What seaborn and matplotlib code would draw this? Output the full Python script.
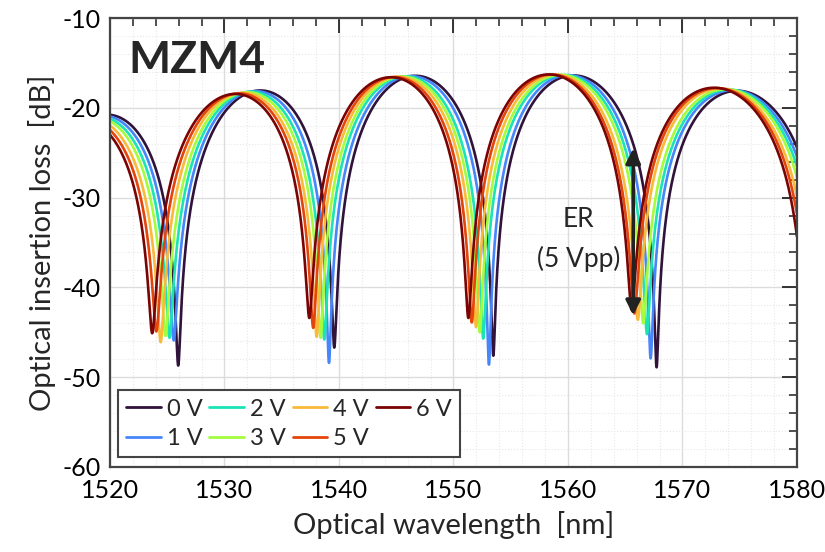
import numpy as np
import pandas as pd
import matplotlib
matplotlib.use("Agg")
import matplotlib.pyplot as plt
import seaborn as sns
from matplotlib.ticker import MultipleLocator

# Bias voltages applied to the modulator
voltages = ["0 V", "1 V", "2 V", "3 V", "4 V", "5 V", "6 V"]

# Notch (minimum transmission) wavelengths in nm for each bias voltage.
# First and last columns are the neighbouring notches just outside the 1520-1580 nm window.
notch_nm = [
    [1512.6, 1525.96, 1539.59, 1553.48, 1567.74, 1582.7],
    [1512.2, 1525.57, 1539.13, 1553.10, 1567.22, 1582.4],
    [1511.8, 1525.20, 1538.72, 1552.60, 1566.90, 1582.1],
    [1511.5, 1524.85, 1538.40, 1552.30, 1566.58, 1581.8],
    [1511.0, 1524.43, 1538.05, 1551.97, 1566.10, 1581.4],
    [1510.6, 1524.05, 1537.75, 1551.60, 1565.80, 1581.1],
    [1510.3, 1523.69, 1537.41, 1551.30, 1565.56, 1580.8],
]

# Insertion loss at the bottom of each notch (dB)
notch_db = [
    [-45.0, -48.7, -46.7, -47.6, -48.9, -45.0],
    [-45.0, -45.9, -48.4, -48.6, -47.9, -45.0],
    [-45.0, -45.6, -45.8, -45.7, -45.2, -45.0],
    [-45.0, -45.4, -45.6, -45.0, -44.0, -45.0],
    [-45.0, -46.1, -45.5, -44.4, -43.6, -45.0],
    [-45.0, -44.9, -44.5, -43.9, -42.9, -45.0],
    [-45.0, -45.1, -43.4, -43.4, -42.5, -45.0],
]

# Transmission maxima (fringe envelope) in nm and dB
peak_nm = [1512.0, 1519.0, 1532.0, 1545.5, 1559.8, 1573.0, 1587.0]
peak_db = [-22.5, -20.7, -18.3, -16.6, -16.1, -17.9, -20.5]

# Extinction-ratio annotation
er_top_db = -24.5
er_bottom_db = -43.1
er_nm = 1565.7

# Mach-Zehnder fringe built from the measured notches and envelope
wl = np.linspace(1520, 1580, 4001)
env_fit = np.polyfit(peak_nm, peak_db, 4)
frames = []
for v, nm, ndb in zip(voltages, notch_nm, notch_db):
    nm = np.asarray(nm)
    ndb = np.asarray(ndb)
    order = np.interp(wl, nm, np.arange(len(nm)))
    nearest = np.clip(np.round(order).astype(int), 0, len(nm) - 1)
    eps = 10 ** ((ndb - np.polyval(env_fit, nm)) / 10)
    ph = np.pi * order
    rel = np.sin(ph) ** 2 + eps[nearest] * np.cos(ph) ** 2
    loss = np.polyval(env_fit, wl) + 10 * np.log10(rel)
    frames.append(pd.DataFrame({"wavelength": wl, "loss": loss, "bias": v}))
df = pd.concat(frames, ignore_index=True)

sns.set_theme(style="white")
font = ["Lato", "DejaVu Sans"]
plt.rcParams["font.family"] = font
plt.rcParams["axes.unicode_minus"] = False

colors = plt.get_cmap("turbo")(np.linspace(0, 1, len(voltages)))
palette = dict(zip(voltages, colors))

fig = plt.figure(figsize=(8.25, 5.52), dpi=100)
ax = fig.add_axes([0.1333, 0.154, 0.8327, 0.813])

ax.grid(True, which="major", color="#dcdcdc", lw=1.0, ls="-")
ax.grid(True, which="minor", color="#e8e8e8", lw=0.8, ls=":")
ax.set_axisbelow(True)

sns.lineplot(data=df, x="wavelength", y="loss", hue="bias", palette=palette,
             hue_order=voltages, sort=False, estimator=None, lw=1.9, ax=ax)

ax.set_xlim(1520, 1580)
ax.set_ylim(-60, -10)
ax.xaxis.set_major_locator(MultipleLocator(10))
ax.xaxis.set_minor_locator(MultipleLocator(2))
ax.yaxis.set_major_locator(MultipleLocator(10))
ax.yaxis.set_minor_locator(MultipleLocator(2))
ax.tick_params(which="both", direction="in", top=True, right=True,
               colors="#333333", labelcolor="black", labelsize=18)
ax.tick_params(which="major", length=11, width=1.4)
ax.tick_params(which="minor", length=6, width=1.2)
ax.tick_params(axis="x", pad=9)
ax.tick_params(axis="y", pad=7)
for s in ax.spines.values():
    s.set_color("#444444")
    s.set_linewidth(1.6)

ax.set_xlabel("Optical wavelength  [nm]", fontsize=21, labelpad=6)
ax.set_ylabel("Optical insertion loss  [dB]", fontsize=21)
ax.yaxis.set_label_coords(-0.078, 0.5)

ax.text(1521.6, -16.1, "MZM4", fontsize=32, fontweight="bold", ha="left",
        va="baseline")

ax.annotate("", xy=(er_nm, er_bottom_db), xytext=(er_nm, er_top_db),
            arrowprops=dict(arrowstyle="<|-|>", color="#222222", lw=2.6,
                            mutation_scale=22, shrinkA=0, shrinkB=0))
ax.text(1560.9, -32.4, "ER", fontsize=19, ha="center", va="center")
ax.text(1560.9, -36.8, "(5 Vpp)", fontsize=19, ha="center", va="center")

leg = ax.legend(loc="lower left", bbox_to_anchor=(0.012, 0.022), ncol=4,
                fontsize=17, frameon=True, fancybox=False, borderaxespad=0,
                handlelength=1.45, handletextpad=0.25, columnspacing=0.3,
                labelspacing=0.35, borderpad=0.35)
leg.get_frame().set_edgecolor("#444444")
leg.get_frame().set_linewidth(1.5)
leg.get_frame().set_alpha(1)
for h in leg.get_lines():
    h.set_linewidth(2.0)

fig.savefig("out.png", dpi=100)
